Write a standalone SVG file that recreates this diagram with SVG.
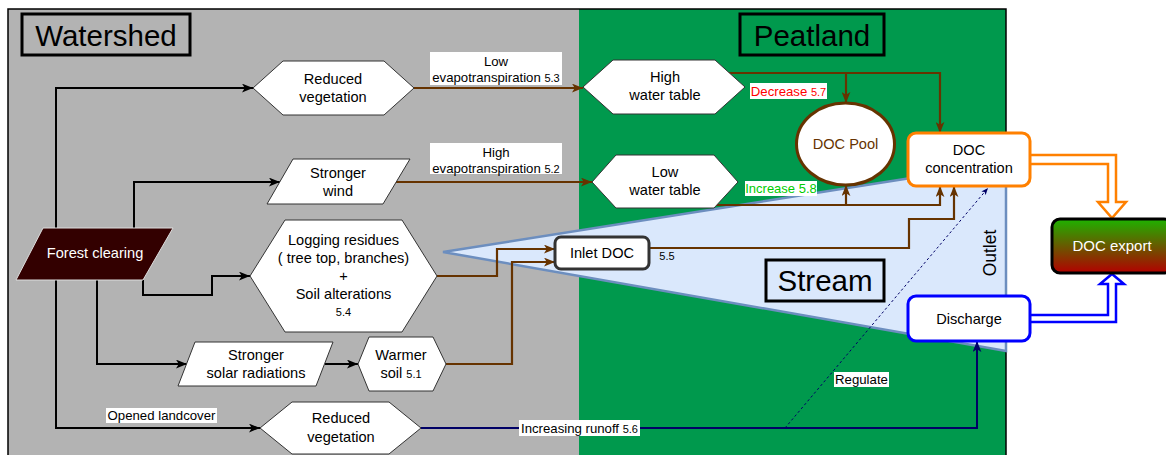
<svg xmlns="http://www.w3.org/2000/svg" width="1166" height="455" viewBox="0 0 1166 455">
<style>
text{font-family:"Liberation Sans",Arial,sans-serif;text-anchor:middle;fill:#000}
.n{font-size:14.6px}
.l{font-size:13.2px}
.s{font-size:11px}
.t{font-size:29.5px}
.shape{fill:#fff;stroke:#333;stroke-width:1}
.blk{fill:none;stroke:#000;stroke-width:2}
.brn{fill:none;stroke:#663300;stroke-width:2.2}
.nvy{fill:none;stroke:#000066;stroke-width:2}
.bg{fill:#fff}
</style>
<defs>
<marker id="ab" viewBox="0 0 10 8" refX="10" refY="4" markerWidth="11" markerHeight="9" markerUnits="userSpaceOnUse" orient="auto"><path d="M0,0 L10,4 L0,8 L2.5,4 Z" fill="#000"/></marker>
<marker id="abr" viewBox="0 0 10 8" refX="10" refY="4" markerWidth="11" markerHeight="9" markerUnits="userSpaceOnUse" orient="auto"><path d="M0,0 L10,4 L0,8 L2.5,4 Z" fill="#663300"/></marker>
<marker id="anv" viewBox="0 0 10 8" refX="10" refY="4" markerWidth="11" markerHeight="9" markerUnits="userSpaceOnUse" orient="auto"><path d="M0,0 L10,4 L0,8 L2.5,4 Z" fill="#000066"/></marker>
<marker id="ans" viewBox="0 0 10 8" refX="10" refY="4" markerWidth="7" markerHeight="6" markerUnits="userSpaceOnUse" orient="auto"><path d="M0,0 L10,4 L0,8 L2.5,4 Z" fill="#000066"/></marker>
<linearGradient id="exg" x1="0" y1="0" x2="0" y2="1"><stop offset="0" stop-color="#1DB300"/><stop offset="1" stop-color="#B30000"/></linearGradient>
</defs>

<g id="background">
<rect x="8" y="9" width="571" height="450" fill="#B3B3B3"/>
<rect x="579" y="9" width="427" height="450" fill="#00994D"/>
<path d="M8,460 V9 H1006 V460" fill="none" stroke="#000" stroke-width="1.5"/>
<polygon points="443,252 1006,163 1006,351" fill="#DAE8FC" stroke="#6C8EBF" stroke-width="2.5"/>
</g>

<g id="label-watershed"><rect x="22" y="14" width="168" height="41" fill="none" stroke="#000" stroke-width="3"/><text class="t" x="106" y="45.5">Watershed</text></g>
<g id="label-peatland"><rect x="740" y="14" width="144" height="41" fill="none" stroke="#000" stroke-width="3"/><text class="t" x="812" y="45.5">Peatland</text></g>
<g id="label-stream"><rect x="766" y="260" width="118" height="41" fill="none" stroke="#000" stroke-width="3"/><text class="t" x="825" y="291">Stream</text></g>
<g id="label-outlet"><text x="990" y="253" font-size="17.5" transform="rotate(-90 990 253)" dy="6">Outlet</text></g>

<g id="connectors">
<!-- black from forest clearing -->
<path class="blk" d="M56,228 V88 H253" marker-end="url(#ab)"/>
<path class="blk" d="M134,228 V182 H280" marker-end="url(#ab)"/>
<path class="blk" d="M143,280 V295 H212 V276 H250" marker-end="url(#ab)"/>
<path class="blk" d="M97,280 V364 H187" marker-end="url(#ab)"/>
<path class="blk" d="M56,280 V428 H260" marker-end="url(#ab)"/>
<path class="blk" d="M325,364 H358" marker-end="url(#ab)"/>
<!-- brown -->
<path class="brn" d="M414,88 H583" marker-end="url(#abr)"/>
<path class="brn" d="M396,182 H592" marker-end="url(#abr)"/>
<path class="brn" d="M437,276 H497 V249 H555" marker-end="url(#abr)"/>
<path class="brn" d="M446,364 H512 V262 H555" marker-end="url(#abr)"/>
<path class="brn" d="M727,73 H940 V133" marker-end="url(#abr)"/>
<path class="brn" d="M846,73 V103" marker-end="url(#abr)"/>
<path class="brn" d="M716,205 H940 V186" marker-end="url(#abr)"/>
<path class="brn" d="M846,205 V185" marker-end="url(#abr)"/>
<path class="brn" d="M649,248 H909 V219 H954 V186" marker-end="url(#abr)"/>
<!-- navy -->
<path class="nvy" d="M421,428 H977 V341" marker-end="url(#anv)"/>
<path d="M785,428 L988,188" fill="none" stroke="#000066" stroke-width="1" stroke-dasharray="2.5 2.5" marker-end="url(#ans)"/>
<!-- flex arrows -->
<path d="M1030,155 H1116 V202 H1126 L1112,218 L1098,202 H1108 V164 H1030" fill="#fff" stroke="#FF8000" stroke-width="2.5" stroke-linejoin="miter"/>
<path d="M1030,322 H1116 V284 H1124 L1112,274 L1100,284 H1108 V315 H1030" fill="#fff" stroke="#0000FF" stroke-width="2.5"/>
<!-- edge labels -->
<rect class="bg" x="430" y="52" width="132" height="33"/>
<text class="l" x="496" y="66">Low</text>
<text class="l" x="496" y="82">evapotranspiration <tspan class="s">5.3</tspan></text>
<rect class="bg" x="430" y="143" width="132" height="31"/>
<text class="l" x="496" y="156.5">High</text>
<text class="l" x="496" y="172.5">evapotranspiration <tspan class="s">5.2</tspan></text>
<rect class="bg" x="750" y="83" width="77" height="16"/>
<text class="l" x="788.5" y="95.5" style="fill:#FF0000">Decrease <tspan class="s" style="fill:#FF0000">5.7</tspan></text>
<rect class="bg" x="745" y="181" width="72" height="15"/>
<text x="781" y="193" font-size="13" style="fill:#00CC00">Increase 5.8</text>
<rect class="bg" x="106" y="408" width="111" height="15"/>
<text class="l" x="161.5" y="420">Opened landcover</text>
<rect class="bg" x="519" y="420" width="121" height="16"/>
<text class="l" x="579.5" y="432.5">Increasing runoff <tspan class="s">5.6</tspan></text>
<rect class="bg" x="834" y="372" width="55" height="15"/>
<text class="l" x="861.5" y="384">Regulate</text>
<text class="s" x="667" y="260">5.5</text>
</g>

<g id="forest-clearing">
<polygon points="43,228 173,228 143,280 16,280" fill="#330000" stroke="#ddd" stroke-width="1"/>
<text class="n" x="95" y="258" style="fill:#fff">Forest clearing</text>
</g>

<g id="reduced-vegetation-top">
<polygon class="shape" points="253,88 283,61 384,61 414,88 384,115 283,115"/>
<text class="n" x="333" y="84">Reduced</text>
<text class="n" x="333" y="102">vegetation</text>
</g>

<g id="stronger-wind">
<polygon class="shape" points="293,159 410,159 383,204 267,204"/>
<text class="n" x="338" y="178">Stronger</text>
<text class="n" x="338" y="196">wind</text>
</g>

<g id="logging-residues">
<polygon class="shape" points="250,276 285,220 402,220 437,276 402,332 285,332"/>
<text class="n" x="343.5" y="245">Logging residues</text>
<text class="n" x="343.5" y="263">( tree top, branches)</text>
<text class="n" x="343.5" y="281">+</text>
<text class="n" x="343.5" y="299">Soil alterations</text>
<text class="s" x="343.5" y="316">5.4</text>
</g>

<g id="stronger-solar">
<polygon class="shape" points="195,342 333,342 316,386 178,386"/>
<text class="n" x="256" y="360">Stronger</text>
<text class="n" x="256" y="378">solar radiations</text>
</g>

<g id="warmer-soil">
<polygon class="shape" points="358,364 369,337 433,337 446,364 433,391 369,391"/>
<text class="n" x="401" y="360">Warmer</text>
<text class="n" x="401" y="378">soil <tspan class="s">5.1</tspan></text>
</g>

<g id="reduced-vegetation-bottom">
<polygon class="shape" points="260,428 292,402 389,402 421,428 389,454 292,454"/>
<text class="n" x="341" y="423">Reduced</text>
<text class="n" x="341" y="442">vegetation</text>
</g>

<g id="high-water-table">
<polygon class="shape" points="583,87 613,60 715,60 745,87 715,114 613,114"/>
<text class="n" x="665" y="82">High</text>
<text class="n" x="665" y="100">water table</text>
</g>

<g id="low-water-table">
<polygon class="shape" points="592,182 616,155 714,155 738,182 714,208 616,208"/>
<text class="n" x="665" y="177">Low</text>
<text class="n" x="665" y="195">water table</text>
</g>

<g id="doc-pool">
<ellipse cx="845.5" cy="144" rx="49" ry="41" fill="#fff" stroke="#663300" stroke-width="3"/>
<text class="n" x="845.5" y="149" style="fill:#663300">DOC Pool</text>
</g>

<g id="doc-concentration">
<rect x="908" y="133" width="122" height="53" rx="8" fill="#fff" stroke="#FF8000" stroke-width="3"/>
<text class="n" x="969" y="155">DOC</text>
<text class="n" x="969" y="173">concentration</text>
</g>

<g id="inlet-doc">
<rect x="555" y="237" width="94" height="32" rx="6" fill="#fff" stroke="#333" stroke-width="3"/>
<text class="n" x="602" y="258">Inlet DOC</text>
</g>

<g id="discharge">
<rect x="908" y="296" width="122" height="45" rx="8" fill="#fff" stroke="#0000FF" stroke-width="3"/>
<text class="n" x="969" y="324">Discharge</text>
</g>

<g id="doc-export">
<rect x="1052" y="219" width="120" height="54" rx="8" fill="url(#exg)" stroke="#000" stroke-width="3"/>
<text x="1112" y="251" font-size="15" style="fill:#fff">DOC export</text>
</g>
</svg>
